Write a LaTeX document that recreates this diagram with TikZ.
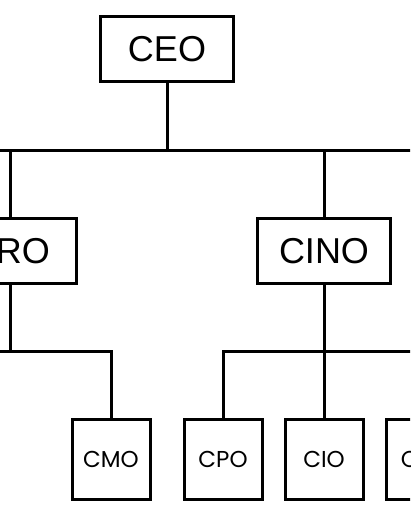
\documentclass[tikz,border=0pt]{standalone}
\usepackage{fontspec}
\setmainfont{Liberation Sans}
\newfontfamily\smallfont{Poppins}
\usetikzlibrary{positioning}

\begin{document}
\begin{tikzpicture}[x=1pt, y=-1pt,
    topbox/.style={draw, line width=3pt, minimum width=133pt, minimum height=65pt,
        inner sep=0pt, font=\fontsize{36}{40}\selectfont},
    smallbox/.style={draw, line width=3pt, minimum width=78pt, minimum height=80pt,
        inner sep=0pt, font=\smallfont\fontsize{23}{26}\selectfont},
    link/.style={line width=3pt}]
    \useasboundingbox (0,0) rectangle (410,514);
    \clip (0,0) rectangle (410,514);
    % boxes
    \node[topbox] (CRO) at (10,251) {\phantom{C}RO};
    \node[topbox] (CEO) at (167,49) {CEO};
    \node[topbox] (CINO) at (324,251) {CINO};
    \node[smallbox] (CMO) at (111,459) {CMO};
    \node[smallbox] (CPO) at (223,459) {CPO};
    \node[smallbox] (CIO) at (324,459) {CIO};
    \node[smallbox] (CXO) at (425,459) {C\phantom{TO}};
    % bus lines
    \coordinate (busL) at (-10,150);
    \coordinate (busR) at (420,150);
    \coordinate (lowL) at (-10,351);
    \coordinate (lowR) at (420,351);
    \draw [link] (busL) -- (busR);
    \draw [link] (CEO.south) -- (CEO.south |- busL);
    \draw [link] (CRO.north) -- (CRO.north |- busL);
    \draw [link] (CINO.north) -- (CINO.north |- busL);
    \draw [link] (CRO.south) -- (CRO.south |- lowL);
    \draw [link] (lowL) -| (CMO.north);
    \draw [link] (CINO.south) -- (CIO.north);
    \draw [link] (lowR) -| (CPO.north);
    \draw [link] (CXO.north) -- (CXO.north |- lowR);
\end{tikzpicture}
\end{document}
